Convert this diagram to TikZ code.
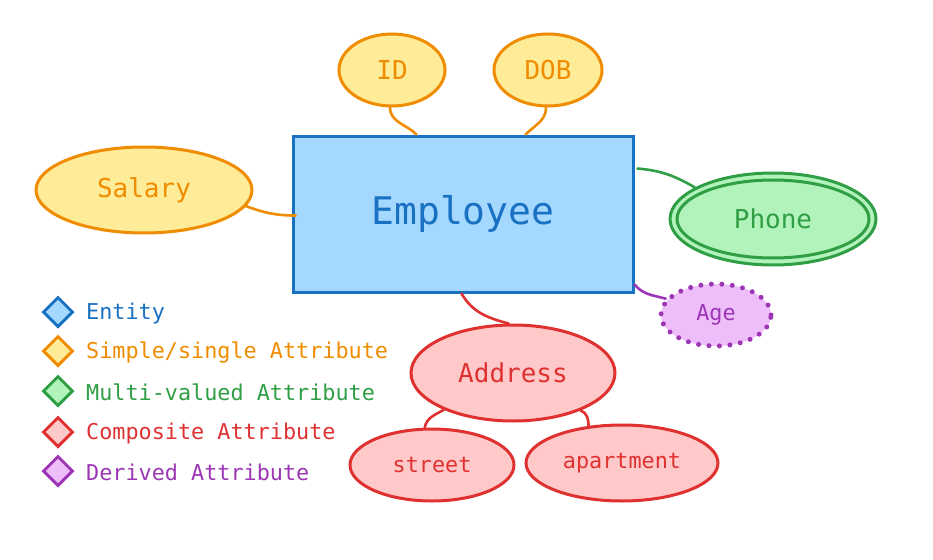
\documentclass[tikz,border=0pt]{standalone}
\usepackage{fontspec}
\newfontfamily\mono{DejaVu Sans Mono}
\usetikzlibrary{shapes.geometric,calc}
\definecolor{bS}{HTML}{1971C2}\definecolor{bF}{HTML}{A5D8FF}
\definecolor{oS}{HTML}{F08C00}\definecolor{oF}{HTML}{FFEC99}
\definecolor{gS}{HTML}{2F9E44}\definecolor{gF}{HTML}{B2F2BB}
\definecolor{rS}{HTML}{E03131}\definecolor{rF}{HTML}{FFC9C9}
\definecolor{pS}{HTML}{9C36B5}\definecolor{pF}{HTML}{EEBEFA}
\newcommand{\fs}[1]{\fontsize{#1}{#1}\selectfont}
\tikzset{
  attr/.style={ellipse, inner sep=0pt, line width=3pt, font=\mono\fs{26}},
  simpleattr/.style={attr, draw=oS, fill=oF, text=oS},
  compattr/.style={attr, draw=rS, fill=rF, text=rS},
  link/.style={line width=2.6pt, line cap=round},
  legdia/.style={diamond, aspect=1, minimum size=30pt, inner sep=0pt, line width=3pt},
  legtext/.style={anchor=west, inner sep=0pt, font=\mono\fs{21.8}},
}
\begin{document}
\begin{tikzpicture}[x=1pt,y=-1pt]
\useasboundingbox (0,0) rectangle (933,559);
% entity
\node[draw=bS, fill=bF, line width=3pt, minimum width=340pt, minimum height=156pt, inner sep=0pt, text=bS, font=\mono\fs{38}] (emp) at (463,214) {Employee};
% simple attributes
\node[simpleattr, minimum width=106pt, minimum height=72pt] (id) at (392,70) {ID};
\node[simpleattr, minimum width=108pt, minimum height=72pt] (dob) at (548,70) {DOB};
\node[simpleattr, minimum width=216pt, minimum height=86pt] (sal) at (144,190) {Salary};
% multi-valued
\node[attr, draw=gS, fill=gF, text=gS, minimum width=206pt, minimum height=92pt] (phone) at (773,219) {};
\node[attr, draw=gS, minimum width=192pt, minimum height=78pt, text=gS] (phonein) at (773,219) {Phone};
% derived
\node[attr, draw=pS, fill=pF, text=pS, font=\mono\fs{21.8}, minimum width=110pt, minimum height=62pt, line width=5pt, dash pattern=on 0pt off 10.5pt, line cap=round] (age) at (716,315) {Age};
% composite
\node[compattr, minimum width=204pt, minimum height=96pt] (addr) at (513,373) {Address};
\node[compattr, font=\mono\fs{21.8}, minimum width=164pt, minimum height=72pt] (street) at (432,465) {street};
\node[compattr, font=\mono\fs{21.8}, minimum width=192pt, minimum height=76pt] (apt) at (622,463) {apartment};
% connectors
\draw[link, oS] (id.-93) to[out=-90, in=135] ($(emp.north west)+(125,0)$);
\draw[link, oS] (dob.-93) to[out=-90, in=45] ($(emp.north west)+(234,0)$);
\draw[link, oS] (sal.-9) to[out=-20, in=180] ($(emp.north west)+(4,81)$);
\draw[link, gS] ($(emp.north east)+(3,34)$) to[out=-5, in=150] (phone.158);
\draw[link, pS] ($(emp.south east)+(0,-9)$) to[out=-50, in=165] (age.162);
\draw[link, rS] ($(emp.south west)+(170,0)$) to[out=-60, in=165] (addr.95);
\draw[link, rS] (street.101) to[out=80, in=210] (addr.-152);
\draw[link, rS] (addr.-29) to[out=-20, in=90] (apt.132);
% legend
\node[legdia, draw=bS, fill=bF] (l1) at (58,312) {};
\node[legdia, draw=oS, fill=oF] (l2) at (58,351) {};
\node[legdia, draw=gS, fill=gF] (l3) at (58,391) {};
\node[legdia, draw=rS, fill=rF] (l4) at (58,432) {};
\node[legdia, draw=pS, fill=pF] (l5) at (58,471) {};
\node[legtext, text=bS] (t1) at (86,313) {Entity};
\node[legtext, text=oS] (t2) at (86,352) {Simple/single Attribute};
\node[legtext, text=gS] (t3) at (86,392) {Multi-valued Attribute};
\node[legtext, text=rS] (t4) at (86,433) {Composite Attribute};
\node[legtext, text=pS] (t5) at (86,472) {Derived Attribute};
\end{tikzpicture}
\end{document}
